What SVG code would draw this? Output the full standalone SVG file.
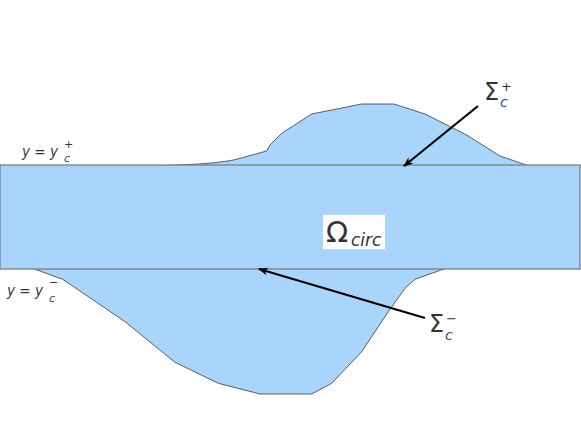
<svg xmlns="http://www.w3.org/2000/svg" width="581" height="436" viewBox="0 0 581 436">
<style>
.reg{fill:#a9d4fb;stroke:#3a3a3a;stroke-width:0.8}
.band{fill:#a9d4fb;stroke:#777;stroke-width:1.2}
.lbl{font-family:"DejaVu Sans","Open Sans",sans-serif;fill:#333}
.sub{fill:#2a4f8a;font-style:italic}
.conn{stroke:#000;stroke-width:2.2;fill:none}
</style>
<defs>
<marker id="ah" markerWidth="10" markerHeight="8" refX="9" refY="4" orient="auto" markerUnits="userSpaceOnUse">
<path d="M0,0 L10,4 L0,8 L3,4 Z" fill="#000"/>
</marker>
</defs>
<rect width="581" height="436" fill="#fff"/>
<g id="top-bump">
<path class="reg" d="M150,166 C190,165 225,163 240,158.3 L266.7,151 L270,145 L281.7,133.3 L311.7,114 L361.7,104 L394,104 L425,114 L466.7,135 L500,156 L528.3,165.7 Z"/>
</g>
<g id="bottom-bump">
<path class="reg" d="M31.7,268 L62.7,279.3 L125,321.7 L175,362.3 L218.3,383.3 L260,394 L311.7,394 L331.7,383.3 L361.7,351.7 L388.3,311.7 L405,288.3 L415,279.3 L446.7,268 Z"/>
</g>
<g id="omega-band">
<rect class="band" x="0" y="165" width="580" height="104"/>
<rect x="323" y="215" width="62" height="34" fill="#fff"/>
<text class="lbl" x="326" y="242" font-size="29" fill="#222">Ω</text>
<text class="lbl" x="351" y="246" font-size="17" font-style="italic" fill="#222">circ</text>
</g>
<g id="label-yplus">
<text class="lbl" x="22" y="157" font-size="16" font-style="italic" textLength="36" lengthAdjust="spacingAndGlyphs">y = y</text>
<text class="lbl sub" x="64" y="162" font-size="11">c</text>
<text class="lbl" x="64" y="148" font-size="11">+</text>
</g>
<g id="label-yminus">
<text class="lbl" x="7" y="296" font-size="16" font-style="italic" textLength="36" lengthAdjust="spacingAndGlyphs">y = y</text>
<text class="lbl sub" x="49" y="302" font-size="11">c</text>
<text class="lbl" x="49" y="286" font-size="11">−</text>
</g>
<g id="label-sigma-plus">
<text class="lbl" x="484" y="100" font-size="24" fill="#222">Σ</text>
<text class="lbl sub" x="500" y="107" font-size="14">c</text>
<text class="lbl" x="501" y="91" font-size="13">+</text>
</g>
<g id="label-sigma-minus">
<text class="lbl" x="429" y="332" font-size="24" fill="#222">Σ</text>
<text class="lbl sub" x="445" y="340" font-size="14">c</text>
<text class="lbl" x="446" y="323" font-size="13">−</text>
</g>
<g id="connectors">
<line class="conn" x1="478" y1="106" x2="404" y2="166" marker-end="url(#ah)"/>
<line class="conn" x1="425" y1="318" x2="259" y2="269" marker-end="url(#ah)"/>
</g>
</svg>
